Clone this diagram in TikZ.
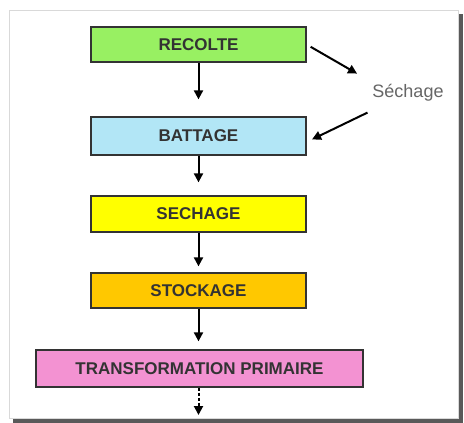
\documentclass[tikz,border=0pt]{standalone}
\usepackage{fontspec}
\setmainfont{Liberation Sans}
\usetikzlibrary{arrows.meta}
\definecolor{vertrec}{HTML}{98F062}
\definecolor{bleubat}{HTML}{B2E6F6}
\definecolor{jaunesec}{HTML}{FFFF00}
\definecolor{orangesto}{HTML}{FFC800}
\definecolor{rosetr}{HTML}{F392D2}

\begin{document}
\begin{tikzpicture}[x=1pt,y=-1pt,
        etape/.style={draw=black!80,line width=1.3pt,minimum height=35pt,inner sep=0pt,
            text=black!80,font=\fontsize{17}{19}\selectfont\bfseries},
        fleche/.style={line width=2pt,-{Triangle[length=9pt,width=9pt]}}]
        \useasboundingbox (0,0) rectangle (464,423);
        \fill[black!65] (13,14) rectangle (463,423);
        \draw[fill=white,draw=black!15,line width=1pt] (9,10) rectangle (458,418);
        \node[etape,fill=vertrec,minimum width=215pt] (recolte) at (198.5,44.5) {RECOLTE};
        \node[etape,fill=bleubat,minimum width=215pt,minimum height=38pt] (battage) at (198.5,136) {BATTAGE};
        \node[etape,fill=jaunesec,minimum width=215pt,minimum height=36pt] (sechage) at (198.5,214) {SECHAGE};
        \node[etape,fill=orangesto,minimum width=215pt] (stockage) at (198.5,290.5) {STOCKAGE};
        \node[etape,fill=rosetr,minimum width=327pt,minimum height=37pt] (transf) at (199.5,368.5) {TRANSFORMATION PRIMAIRE};
        \node[text=black!60,font=\fontsize{18}{20}\selectfont] (sech) at (408,93) {Séchage};
        \coordinate (suite) at (198.5,415);
        \draw[fleche,shorten >=17pt] (recolte) -- (battage);
        \draw[fleche,shorten >=13pt] (battage) -- (sechage);
        \draw[fleche,shorten >=6pt] (sechage) -- (stockage);
        \draw[fleche,shorten >=8pt] (stockage.south) -- (stockage.south |- transf.north);
        \draw[fleche,dash pattern=on 3pt off 2pt] (transf.south -| suite) -- (suite);
        \draw[fleche,shorten <=4.6pt,shorten >=58.8pt] (recolte.east) -- ([yshift=-10pt]sech.center);
        \draw[fleche,shorten <=45pt,shorten >=6pt] (sech.center) -- ([yshift=-6pt]battage.east);
    \end{tikzpicture}
\end{document}
